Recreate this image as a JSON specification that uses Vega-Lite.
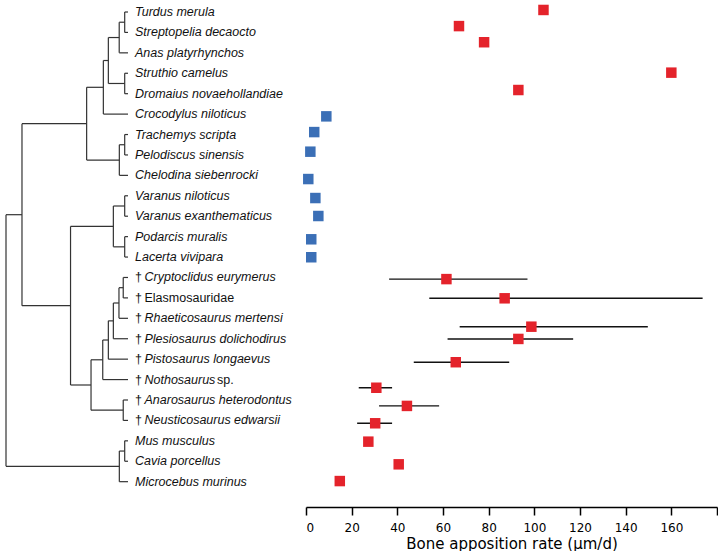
{
  "$schema": "https://vega.github.io/schema/vega-lite/v6.json",
  "padding": 0,
  "spacing": 8,
  "config": {"view": {"stroke": null}},
  "datasets": {
    "tree": [
      {"x1": 97.3, "x2": 97.3, "y1": 0, "y2": 1},
      {"x1": 92.8, "x2": 92.8, "y1": 0.5, "y2": 2},
      {"x1": 97.3, "x2": 97.3, "y1": 3, "y2": 4},
      {"x1": 83.9, "x2": 83.9, "y1": 1.25, "y2": 3.5},
      {"x1": 79.8, "x2": 79.8, "y1": 2.375, "y2": 5},
      {"x1": 97.3, "x2": 97.3, "y1": 6, "y2": 7},
      {"x1": 92.9, "x2": 92.9, "y1": 6.5, "y2": 8},
      {"x1": 66.1, "x2": 66.1, "y1": 3.6875, "y2": 7.25},
      {"x1": 97.3, "x2": 97.3, "y1": 9, "y2": 10},
      {"x1": 97.3, "x2": 97.3, "y1": 11, "y2": 12},
      {"x1": 88, "x2": 88, "y1": 9.5, "y2": 11.5},
      {"x1": 96.1, "x2": 96.1, "y1": 13, "y2": 14},
      {"x1": 92.6, "x2": 92.6, "y1": 13.5, "y2": 15},
      {"x1": 88, "x2": 88, "y1": 14.25, "y2": 16},
      {"x1": 83.9, "x2": 83.9, "y1": 15.125, "y2": 17},
      {"x1": 79.3, "x2": 79.3, "y1": 16.0625, "y2": 18},
      {"x1": 96.1, "x2": 96.1, "y1": 19, "y2": 20},
      {"x1": 69.7, "x2": 69.7, "y1": 17.03125, "y2": 19.5},
      {"x1": 52.9, "x2": 52.9, "y1": 10.5, "y2": 18.2656},
      {"x1": 13.1, "x2": 13.1, "y1": 5.46875, "y2": 14.3828},
      {"x1": 97.3, "x2": 97.3, "y1": 21, "y2": 22},
      {"x1": 92.9, "x2": 92.9, "y1": 21.5, "y2": 23},
      {"x1": 0, "x2": 0, "y1": 9.92578, "y2": 22.25},
      {"x1": 97.3, "x2": 100, "y1": 0, "y2": 0},
      {"x1": 97.3, "x2": 100, "y1": 1, "y2": 1},
      {"x1": 92.8, "x2": 100, "y1": 2, "y2": 2},
      {"x1": 97.3, "x2": 100, "y1": 3, "y2": 3},
      {"x1": 97.3, "x2": 100, "y1": 4, "y2": 4},
      {"x1": 79.8, "x2": 100, "y1": 5, "y2": 5},
      {"x1": 97.3, "x2": 100, "y1": 6, "y2": 6},
      {"x1": 97.3, "x2": 100, "y1": 7, "y2": 7},
      {"x1": 92.9, "x2": 100, "y1": 8, "y2": 8},
      {"x1": 97.3, "x2": 100, "y1": 9, "y2": 9},
      {"x1": 97.3, "x2": 100, "y1": 10, "y2": 10},
      {"x1": 97.3, "x2": 100, "y1": 11, "y2": 11},
      {"x1": 97.3, "x2": 100, "y1": 12, "y2": 12},
      {"x1": 96.1, "x2": 100, "y1": 13, "y2": 13},
      {"x1": 96.1, "x2": 100, "y1": 14, "y2": 14},
      {"x1": 92.6, "x2": 100, "y1": 15, "y2": 15},
      {"x1": 88, "x2": 100, "y1": 16, "y2": 16},
      {"x1": 83.9, "x2": 100, "y1": 17, "y2": 17},
      {"x1": 79.3, "x2": 100, "y1": 18, "y2": 18},
      {"x1": 96.1, "x2": 100, "y1": 19, "y2": 19},
      {"x1": 96.1, "x2": 100, "y1": 20, "y2": 20},
      {"x1": 97.3, "x2": 100, "y1": 21, "y2": 21},
      {"x1": 97.3, "x2": 100, "y1": 22, "y2": 22},
      {"x1": 92.9, "x2": 100, "y1": 23, "y2": 23},
      {"x1": 92.8, "x2": 97.3, "y1": 0.5, "y2": 0.5},
      {"x1": 83.9, "x2": 92.8, "y1": 1.25, "y2": 1.25},
      {"x1": 83.9, "x2": 97.3, "y1": 3.5, "y2": 3.5},
      {"x1": 79.8, "x2": 83.9, "y1": 2.375, "y2": 2.375},
      {"x1": 66.1, "x2": 79.8, "y1": 3.6875, "y2": 3.6875},
      {"x1": 92.9, "x2": 97.3, "y1": 6.5, "y2": 6.5},
      {"x1": 66.1, "x2": 92.9, "y1": 7.25, "y2": 7.25},
      {"x1": 13.1, "x2": 66.1, "y1": 5.46875, "y2": 5.46875},
      {"x1": 88, "x2": 97.3, "y1": 9.5, "y2": 9.5},
      {"x1": 88, "x2": 97.3, "y1": 11.5, "y2": 11.5},
      {"x1": 52.9, "x2": 88, "y1": 10.5, "y2": 10.5},
      {"x1": 92.6, "x2": 96.1, "y1": 13.5, "y2": 13.5},
      {"x1": 88, "x2": 92.6, "y1": 14.25, "y2": 14.25},
      {"x1": 83.9, "x2": 88, "y1": 15.125, "y2": 15.125},
      {"x1": 79.3, "x2": 83.9, "y1": 16.0625, "y2": 16.0625},
      {"x1": 69.7, "x2": 79.3, "y1": 17.03125, "y2": 17.03125},
      {"x1": 69.7, "x2": 96.1, "y1": 19.5, "y2": 19.5},
      {"x1": 52.9, "x2": 69.7, "y1": 18.2656, "y2": 18.2656},
      {"x1": 13.1, "x2": 52.9, "y1": 14.3828, "y2": 14.3828},
      {"x1": 0, "x2": 13.1, "y1": 9.92578, "y2": 9.92578},
      {"x1": 92.9, "x2": 97.3, "y1": 21.5, "y2": 21.5},
      {"x1": 0, "x2": 92.9, "y1": 22.25, "y2": 22.25}
    ],
    "species": [
      {"name": "Turdus merula", "row": 0, "tip": 100, "fossil": false, "style": "italic", "py": -0.1, "rate": 104, "group": "high"},
      {"name": "Streptopelia decaocto", "row": 1, "tip": 100, "fossil": false, "style": "italic", "py": 0.69, "rate": 67, "group": "high"},
      {"name": "Anas platyrhynchos", "row": 2, "tip": 100, "fossil": false, "style": "italic", "py": 1.48, "rate": 78, "group": "high"},
      {"name": "Struthio camelus", "row": 3, "tip": 100, "fossil": false, "style": "italic", "py": 2.97, "rate": 160, "group": "high"},
      {"name": "Dromaius novaehollandiae", "row": 4, "tip": 100, "fossil": false, "style": "italic", "py": 3.82, "rate": 93, "group": "high"},
      {"name": "Crocodylus niloticus", "row": 5, "tip": 100, "fossil": false, "style": "italic", "py": 5.11, "rate": 8.9, "group": "low"},
      {"name": "Trachemys scripta", "row": 6, "tip": 100, "fossil": false, "style": "italic", "py": 5.88, "rate": 3.6, "group": "low"},
      {"name": "Pelodiscus sinensis", "row": 7, "tip": 100, "fossil": false, "style": "italic", "py": 6.84, "rate": 1.9, "group": "low"},
      {"name": "Chelodina siebenrocki", "row": 8, "tip": 100, "fossil": false, "style": "italic", "py": 8.18, "rate": 1.0, "group": "low"},
      {"name": "Varanus niloticus", "row": 9, "tip": 100, "fossil": false, "style": "italic", "py": 9.11, "rate": 4.1, "group": "low"},
      {"name": "Varanus exanthematicus", "row": 10, "tip": 100, "fossil": false, "style": "italic", "py": 9.99, "rate": 5.4, "group": "low"},
      {"name": "Podarcis muralis", "row": 11, "tip": 100, "fossil": false, "style": "italic", "py": 11.13, "rate": 2.3, "group": "low"},
      {"name": "Lacerta vivipara", "row": 12, "tip": 100, "fossil": false, "style": "italic", "py": 12.01, "rate": 2.3, "group": "low"},
      {"name": "Cryptoclidus eurymerus", "row": 13, "tip": 100, "fossil": true, "style": "italic", "py": 13.08, "rate": 61.5, "lo": 36.4, "hi": 97, "group": "high"},
      {"name": "Elasmosauridae", "row": 14, "tip": 100, "fossil": true, "style": "normal", "py": 14.02, "rate": 87, "lo": 54, "hi": 173.7, "group": "high"},
      {"name": "Rhaeticosaurus mertensi", "row": 15, "tip": 100, "fossil": true, "style": "italic", "py": 15.41, "rate": 98.7, "lo": 67.3, "hi": 149.7, "group": "high"},
      {"name": "Plesiosaurus dolichodirus", "row": 16, "tip": 100, "fossil": true, "style": "italic", "py": 16.01, "rate": 93, "lo": 62, "hi": 117, "group": "high"},
      {"name": "Pistosaurus longaevus", "row": 17, "tip": 100, "fossil": true, "style": "italic", "py": 17.15, "rate": 65.6, "lo": 47.2, "hi": 89, "group": "high"},
      {"name": "Nothosaurus", "suffix": "sp.", "row": 18, "tip": 100, "fossil": true, "style": "italic", "py": 18.4, "rate": 30.8, "lo": 23.1, "hi": 37.7, "group": "high"},
      {"name": "Anarosaurus heterodontus", "row": 19, "tip": 100, "fossil": true, "style": "italic", "py": 19.29, "rate": 44.2, "lo": 32, "hi": 58.3, "group": "high"},
      {"name": "Neusticosaurus edwarsii", "row": 20, "tip": 100, "fossil": true, "style": "italic", "py": 20.14, "rate": 30.3, "lo": 22.4, "hi": 37.7, "group": "high"},
      {"name": "Mus musculus", "row": 21, "tip": 100, "fossil": false, "style": "italic", "py": 21.04, "rate": 27.3, "group": "high"},
      {"name": "Cavia porcellus", "row": 22, "tip": 100, "fossil": false, "style": "italic", "py": 22.15, "rate": 40.6, "group": "high"},
      {"name": "Microcebus murinus", "row": 23, "tip": 100, "fossil": false, "style": "italic", "py": 22.97, "rate": 14.8, "group": "high"}
    ]
  },
  "hconcat": [
    {
      "width": 295,
      "height": 507,
      "layer": [
        {
          "data": {"name": "tree"},
          "mark": {"type": "rule", "color": "#333333", "strokeWidth": 1.2},
          "encoding": {
            "x": {"field": "x1", "type": "quantitative", "scale": {"domain": [-4.92, 236.9], "nice": false, "zero": false}, "axis": null},
            "x2": {"field": "x2"},
            "y": {"field": "y1", "type": "quantitative", "scale": {"domain": [-0.588, 24.24], "nice": false, "zero": false, "reverse": true}, "axis": null},
            "y2": {"field": "y2"}
          }
        },
        {
          "data": {"name": "species"},
          "transform": [{"filter": "!datum.fossil"}],
          "mark": {"type": "text", "align": "left", "baseline": "middle", "font": "Liberation Sans", "fontSize": 12.5, "fontStyle": "italic", "color": "#111111", "dx": 7},
          "encoding": {
            "x": {"field": "tip", "type": "quantitative", "axis": null},
            "y": {"field": "row", "type": "quantitative", "axis": null},
            "text": {"field": "name"}
          }
        },
        {
          "data": {"name": "species"},
          "transform": [{"filter": "datum.fossil"}],
          "mark": {"type": "text", "align": "left", "baseline": "middle", "font": "Liberation Sans", "fontSize": 12.5, "color": "#111111", "dx": 7, "text": "†"},
          "encoding": {
            "x": {"field": "tip", "type": "quantitative", "axis": null},
            "y": {"field": "row", "type": "quantitative", "axis": null}
          }
        },
        {
          "data": {"name": "species"},
          "transform": [{"filter": "datum.fossil && datum.style == 'italic'"}],
          "mark": {"type": "text", "align": "left", "baseline": "middle", "font": "Liberation Sans", "fontSize": 12.5, "fontStyle": "italic", "color": "#111111", "dx": 16.5},
          "encoding": {
            "x": {"field": "tip", "type": "quantitative", "axis": null},
            "y": {"field": "row", "type": "quantitative", "axis": null},
            "text": {"field": "name"}
          }
        },
        {
          "data": {"name": "species"},
          "transform": [{"filter": "datum.style == 'normal'"}],
          "mark": {"type": "text", "align": "left", "baseline": "middle", "font": "Liberation Sans", "fontSize": 12.5, "color": "#111111", "dx": 16.5},
          "encoding": {
            "x": {"field": "tip", "type": "quantitative", "axis": null},
            "y": {"field": "row", "type": "quantitative", "axis": null},
            "text": {"field": "name"}
          }
        },
        {
          "data": {"name": "species"},
          "transform": [{"filter": "isValid(datum.suffix)"}],
          "mark": {"type": "text", "align": "left", "baseline": "middle", "font": "Liberation Sans", "fontSize": 12.5, "color": "#111111", "dx": 89},
          "encoding": {
            "x": {"field": "tip", "type": "quantitative", "axis": null},
            "y": {"field": "row", "type": "quantitative", "axis": null},
            "text": {"field": "suffix"}
          }
        }
      ]
    },
    {
      "width": 411,
      "height": 507,
      "data": {"name": "species"},
      "layer": [
        {
          "transform": [{"filter": "isValid(datum.lo)"}],
          "mark": {"type": "rule", "color": "#111111", "strokeWidth": 1.4},
          "encoding": {
            "x": {"field": "lo", "type": "quantitative"},
            "x2": {"field": "hi"},
            "y": {"field": "py", "type": "quantitative", "axis": null}
          }
        },
        {
          "mark": {"type": "square", "size": 110, "opacity": 1, "filled": true},
          "encoding": {
            "x": {
              "field": "rate", "type": "quantitative",
              "scale": {"domain": [0, 180], "nice": false, "zero": false},
              "axis": {
                "title": "Bone apposition rate (µm/d)",
                "values": [0, 20, 40, 60, 80, 100, 120, 140, 160, 180],
                "labelExpr": "datum.value == 180 ? '' : datum.label",
                "grid": false,
                "domainColor": "#000000", "domainWidth": 1.5,
                "tickColor": "#000000", "tickWidth": 1.5, "tickSize": 8,
                "labelFont": "DejaVu Sans", "labelFontSize": 12, "labelColor": "#000000", "labelPadding": 7,
                "titleFont": "DejaVu Sans", "titleFontSize": 15, "titleFontWeight": "normal", "titleColor": "#000000", "titlePadding": 3
              }
            },
            "y": {"field": "py", "type": "quantitative", "scale": {"domain": [-0.588, 24.24], "nice": false, "zero": false, "reverse": true}, "axis": null},
            "color": {"field": "group", "type": "nominal", "scale": {"domain": ["high", "low"], "range": ["#e4232b", "#3b6fb6"]}, "legend": null}
          }
        }
      ]
    }
  ]
}
